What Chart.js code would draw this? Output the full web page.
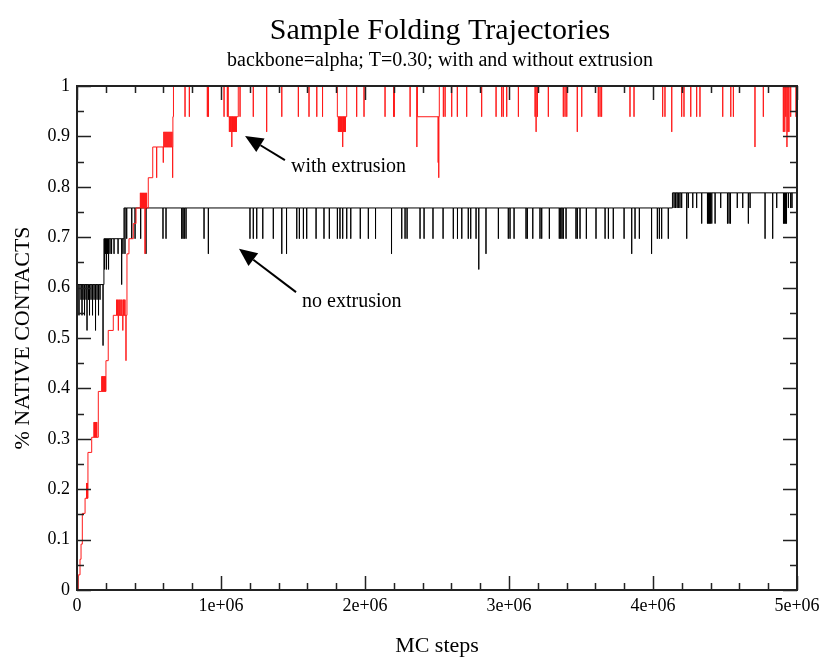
<!DOCTYPE html>
<html>
<head>
<meta charset="utf-8">
<title>Sample Folding Trajectories</title>
<script src="https://cdn.jsdelivr.net/npm/chart.js@4.4.1/dist/chart.umd.min.js"></script>
<style>
  html, body { margin: 0; padding: 0; background: #fff; }
  #chart { display: block; }
</style>
</head>
<body>
<canvas id="chart" width="825" height="657"></canvas>
<script>
// ---- data ----
// fraction of native contacts, step function [MC step, level]
const redSteps = [
  [0, 0], [9000, 0.030], [21000, 0.061], [28000, 0.091], [37000, 0.152], [56000, 0.182],
  [76000, 0.273], [102000, 0.303], [148000, 0.394], [201000, 0.455], [217000, 0.515],
  [252000, 0.545], [347000, 0.667], [361000, 0.697], [391000, 0.727], [410000, 0.758],
  [495000, 0.818], [526000, 0.879], [666000, 0.939], [670000, 1.0],
  [1051000, 0.939], [1120000, 1.0], [1808000, 0.939], [1873000, 1.0],
  [2364000, 0.939], [2516000, 1.0]
];

// short excursions away from the current level [MC step, value]
const redSpikes = [
  [66000, 0.212], [69000, 0.212], [72000, 0.212],
  [118000, 0.333], [122000, 0.333], [126000, 0.333], [130000, 0.333], [134000, 0.333], [137000, 0.333],
  [172000, 0.424], [177000, 0.424], [182000, 0.424], [187000, 0.424], [192000, 0.424], [197000, 0.424],
  [275000, 0.576], [282000, 0.576], [287000, 0.515], [290000, 0.576], [297000, 0.576], [305000, 0.576],
  [312000, 0.576], [318000, 0.515], [322000, 0.576], [327000, 0.576], [333000, 0.576], [340000, 0.455],
  [440000, 0.788], [447000, 0.788], [454000, 0.788], [461000, 0.788], [468000, 0.788], [472000, 0.667],
  [476000, 0.788], [483000, 0.788],
  [553000, 0.818], [599000, 0.848], [603000, 0.909], [610000, 0.909], [617000, 0.909], [624000, 0.909],
  [631000, 0.909], [638000, 0.909], [645000, 0.909], [652000, 0.909], [659000, 0.909], [664000, 0.818],
  [750000, 0.939], [780000, 0.939], [905000, 0.939], [913000, 0.939], [1021000, 0.939], [1044000, 0.939],
  [1058000, 0.909], [1065000, 0.909], [1070000, 0.909], [1075000, 0.879], [1080000, 0.909],
  [1086000, 0.909], [1093000, 0.909], [1100000, 0.909], [1107000, 0.909],
  [1132000, 0.939], [1224000, 0.939], [1317000, 0.909], [1422000, 0.939], [1537000, 0.939],
  [1611000, 0.939], [1665000, 0.939], [1705000, 0.939],
  [1815000, 0.909], [1822000, 0.909], [1829000, 0.909], [1836000, 0.909], [1845000, 0.879],
  [1850000, 0.909], [1857000, 0.909], [1864000, 0.909],
  [1942000, 0.939], [1993000, 0.939], [2139000, 0.939], [2199000, 0.939], [2203000, 0.939],
  [2313000, 0.939], [2360000, 0.879], [2508000, 0.848], [2512000, 0.818],
  [2544000, 0.939], [2556000, 0.939], [2602000, 0.939], [2641000, 0.939], [2706000, 0.939],
  [2810000, 0.939], [2910000, 0.939], [2949000, 0.939], [2960000, 0.939], [2984000, 0.939],
  [3065000, 0.939], [3181000, 0.939], [3188000, 0.909], [3197000, 0.939], [3273000, 0.939],
  [3377000, 0.939], [3389000, 0.939], [3401000, 0.939], [3474000, 0.909], [3505000, 0.939],
  [3620000, 0.939], [3632000, 0.939], [3643000, 0.939], [3840000, 0.939], [3868000, 0.939],
  [4067000, 0.939], [4083000, 0.939], [4130000, 0.909], [4199000, 0.939], [4215000, 0.939],
  [4262000, 0.939], [4303000, 0.939], [4326000, 0.939], [4484000, 0.939], [4540000, 0.939],
  [4558000, 0.939], [4708000, 0.879], [4766000, 0.939],
  [4905000, 0.909], [4915000, 0.909], [4922000, 0.939], [4930000, 0.879], [4937000, 0.909],
  [4944000, 0.909], [4956000, 0.939], [4993000, 0.939]
];

const blackSteps = [
  [0, 0.455], [3000, 0.545], [6000, 0.606], [187000, 0.697], [326000, 0.758], [4135000, 0.788]
];

const blackSpikes = [
  [13900, 0.545], [27800, 0.576], [34700, 0.545], [41700, 0.576], [52100, 0.545], [62500, 0.576],
  [69400, 0.515], [79900, 0.576], [86800, 0.545], [97200, 0.576], [107600, 0.545], [118100, 0.576],
  [128500, 0.515], [138900, 0.576], [149300, 0.545], [159700, 0.576], [180600, 0.485],
  [192000, 0.636], [198000, 0.667], [205000, 0.636], [212000, 0.667], [219000, 0.636],
  [229000, 0.667], [240000, 0.667], [257000, 0.667], [285000, 0.667], [310000, 0.606], [319000, 0.667],
  [333000, 0.667], [345000, 0.697], [380000, 0.697], [403000, 0.697], [442000, 0.697], [479000, 0.667],
  [597000, 0.697], [618000, 0.697], [727000, 0.697], [736000, 0.697], [745000, 0.697], [757000, 0.697],
  [882000, 0.697], [912000, 0.667], [1201000, 0.697], [1224000, 0.697], [1248000, 0.697],
  [1290000, 0.697], [1363000, 0.697], [1422000, 0.667], [1455000, 0.667], [1526000, 0.697],
  [1544000, 0.697], [1572000, 0.697], [1595000, 0.697], [1660000, 0.697], [1715000, 0.697],
  [1752000, 0.697], [1808000, 0.697], [1826000, 0.697], [1845000, 0.697], [1873000, 0.697],
  [1901000, 0.697], [1967000, 0.697], [2023000, 0.697], [2073000, 0.697], [2184000, 0.667],
  [2255000, 0.697], [2278000, 0.697], [2292000, 0.697], [2382000, 0.697], [2410000, 0.697],
  [2472000, 0.697], [2542000, 0.697], [2613000, 0.697], [2642000, 0.697], [2672000, 0.697],
  [2717000, 0.697], [2734000, 0.697], [2771000, 0.697], [2790000, 0.636], [2840000, 0.667],
  [2926000, 0.697], [2995000, 0.697], [3007000, 0.697], [3035000, 0.697], [3118000, 0.697],
  [3127000, 0.697], [3165000, 0.697], [3215000, 0.697], [3227000, 0.697], [3280000, 0.697],
  [3349000, 0.697], [3359000, 0.697], [3368000, 0.697], [3377000, 0.697], [3396000, 0.697],
  [3465000, 0.697], [3474000, 0.697], [3493000, 0.697], [3537000, 0.697], [3604000, 0.697],
  [3667000, 0.697], [3690000, 0.697], [3724000, 0.697], [3799000, 0.697], [3852000, 0.667],
  [3875000, 0.697], [3905000, 0.697], [3990000, 0.667], [4030000, 0.697], [4044000, 0.697],
  [4060000, 0.697], [4106000, 0.697],
  [4146000, 0.758], [4156000, 0.758], [4167000, 0.758], [4176000, 0.758], [4187000, 0.758],
  [4199000, 0.758], [4234000, 0.697], [4245000, 0.758], [4276000, 0.758], [4303000, 0.758],
  [4338000, 0.727], [4378000, 0.727], [4385000, 0.727], [4392000, 0.727], [4399000, 0.727],
  [4408000, 0.727], [4431000, 0.727], [4470000, 0.758], [4517000, 0.727], [4528000, 0.727],
  [4538000, 0.727], [4585000, 0.758], [4623000, 0.758], [4662000, 0.727], [4674000, 0.758],
  [4778000, 0.697], [4831000, 0.697], [4859000, 0.758], [4906000, 0.727], [4913000, 0.727],
  [4920000, 0.727], [4927000, 0.727], [4940000, 0.758], [4956000, 0.758], [4965000, 0.758]
];

const xTickLabels = ['0', '1e+06', '2e+06', '3e+06', '4e+06', '5e+06'];
const yTickLabels = ['0', '0.1', '0.2', '0.3', '0.4', '0.5', '0.6', '0.7', '0.8', '0.9', '1'];

// annotation text and arrow (tip -> tail), in data units
const notes = [
  { text: 'with extrusion', tip: [1167000, 0.901], tail: [1444000, 0.853], at: [1486000, 0.829] },
  { text: 'no extrusion', tip: [1125000, 0.677], tail: [1521000, 0.591], at: [1563000, 0.562] }
];

const SERIF = '"Liberation Serif", "DejaVu Serif", serif';

// level of a step function at a given step
function levelAt(steps, x) {
  let y = steps[0][1];
  for (const s of steps) if (s[0] <= x) y = s[1];
  return y;
}

// turn the step list and spike list into points for a stepped line
function buildSeries(steps, spikes) {
  const items = steps.map(s => ({ x: s[0], y: s[1], spike: false }))
    .concat(spikes.map(s => ({ x: s[0], y: s[1], spike: true })))
    .sort((a, b) => a.x - b.x);
  const pts = [];
  items.forEach(it => {
    if (it.spike) {
      pts.push({ x: it.x, y: it.y });
      pts.push({ x: it.x + 400, y: levelAt(steps, it.x) });
    } else {
      pts.push({ x: it.x, y: it.y });
    }
  });
  pts.push({ x: 5000000, y: steps[steps.length - 1][1] });
  return pts;
}

// frame, inward ticks, titles, annotations
const decorPlugin = {
  id: 'decor',
  afterDraw(chart) {
    const ctx = chart.ctx;
    const a = chart.chartArea;
    const xs = chart.scales.x;
    const ys = chart.scales.y;
    ctx.save();

    // inward ticks on all four sides
    ctx.strokeStyle = '#222';
    ctx.lineWidth = 1.5;
    ctx.beginPath();
    for (let i = 0; i <= 25; i++) {
      const px = Math.round(xs.getPixelForValue(i * 200000)) + 0.5;
      const len = i % 5 === 0 ? 14 : 7;
      ctx.moveTo(px, a.bottom); ctx.lineTo(px, a.bottom - len);
      ctx.moveTo(px, a.top); ctx.lineTo(px, a.top + len);
    }
    for (let i = 0; i <= 20; i++) {
      const py = Math.round(ys.getPixelForValue(i * 0.05)) + 0.5;
      const len = i % 2 === 0 ? 14 : 7;
      ctx.moveTo(a.left, py); ctx.lineTo(a.left + len, py);
      ctx.moveTo(a.right, py); ctx.lineTo(a.right - len, py);
    }
    ctx.stroke();

    // frame
    ctx.lineWidth = 2;
    ctx.strokeStyle = '#222';
    ctx.strokeRect(a.left, a.top, a.right - a.left, a.bottom - a.top);

    // titles
    ctx.fillStyle = '#000';
    ctx.textAlign = 'center';
    ctx.textBaseline = 'alphabetic';
    ctx.font = '30px ' + SERIF;
    ctx.fillText('Sample Folding Trajectories', 440, 39);
    ctx.font = '20px ' + SERIF;
    ctx.fillText('backbone=alpha; T=0.30; with and without extrusion', 440, 66);

    // axis titles
    ctx.font = '22px ' + SERIF;
    ctx.fillText('MC steps', (a.left + a.right) / 2, 652);
    ctx.save();
    ctx.translate(29, (a.top + a.bottom) / 2);
    ctx.rotate(-Math.PI / 2);
    ctx.fillText('% NATIVE CONTACTS', 0, 0);
    ctx.restore();

    // annotations with arrows
    notes.forEach(n => {
      const tx = xs.getPixelForValue(n.tip[0]), ty = ys.getPixelForValue(n.tip[1]);
      const sx = xs.getPixelForValue(n.tail[0]), sy = ys.getPixelForValue(n.tail[1]);
      const ang = Math.atan2(ty - sy, tx - sx);
      const headLen = 18, headW = 8;
      const bx = tx - headLen * Math.cos(ang), by = ty - headLen * Math.sin(ang);
      ctx.strokeStyle = '#000';
      ctx.lineWidth = 2;
      ctx.beginPath();
      ctx.moveTo(sx, sy); ctx.lineTo(bx, by);
      ctx.stroke();
      ctx.fillStyle = '#000';
      ctx.beginPath();
      ctx.moveTo(tx, ty);
      ctx.lineTo(bx + headW * Math.sin(ang), by - headW * Math.cos(ang));
      ctx.lineTo(bx - headW * Math.sin(ang), by + headW * Math.cos(ang));
      ctx.closePath();
      ctx.fill();
      ctx.font = '20px ' + SERIF;
      ctx.textAlign = 'left';
      ctx.fillText(n.text, xs.getPixelForValue(n.at[0]), ys.getPixelForValue(n.at[1]));
    });
    ctx.restore();
  }
};

new Chart(document.getElementById('chart').getContext('2d'), {
  type: 'line',
  data: {
    datasets: [
      {
        label: 'with extrusion',
        data: buildSeries(redSteps, redSpikes),
        borderColor: '#ff1a1a',
        borderWidth: 1,
        stepped: true,
        pointRadius: 0,
        fill: false
      },
      {
        label: 'no extrusion',
        data: buildSeries(blackSteps, blackSpikes),
        borderColor: '#000000',
        borderWidth: 1,
        stepped: true,
        pointRadius: 0,
        fill: false
      }
    ]
  },
  options: {
    responsive: false,
    animation: false,
    events: [],
    layout: { padding: { top: 86, right: 28, left: 0, bottom: 0 } },
    plugins: {
      legend: { display: false },
      tooltip: { enabled: false },
      title: { display: false }
    },
    scales: {
      x: {
        type: 'linear',
        min: 0,
        max: 5000000,
        grid: { display: false, drawTicks: false },
        border: { display: false },
        afterFit: scale => { scale.height = 67; },
        ticks: {
          stepSize: 1000000,
          autoSkip: false,
          maxRotation: 0,
          padding: 5,
          color: '#000',
          font: { family: SERIF, size: 18 },
          callback: (v, i) => xTickLabels[i]
        }
      },
      y: {
        type: 'linear',
        min: 0,
        max: 1,
        grid: { display: false, drawTicks: false },
        border: { display: false },
        afterFit: scale => { scale.width = 77; },
        ticks: {
          stepSize: 0.1,
          autoSkip: false,
          padding: 7,
          color: '#000',
          font: { family: SERIF, size: 18 },
          callback: (v, i) => yTickLabels[i]
        }
      }
    }
  },
  plugins: [decorPlugin]
});
</script>
</body>
</html>
